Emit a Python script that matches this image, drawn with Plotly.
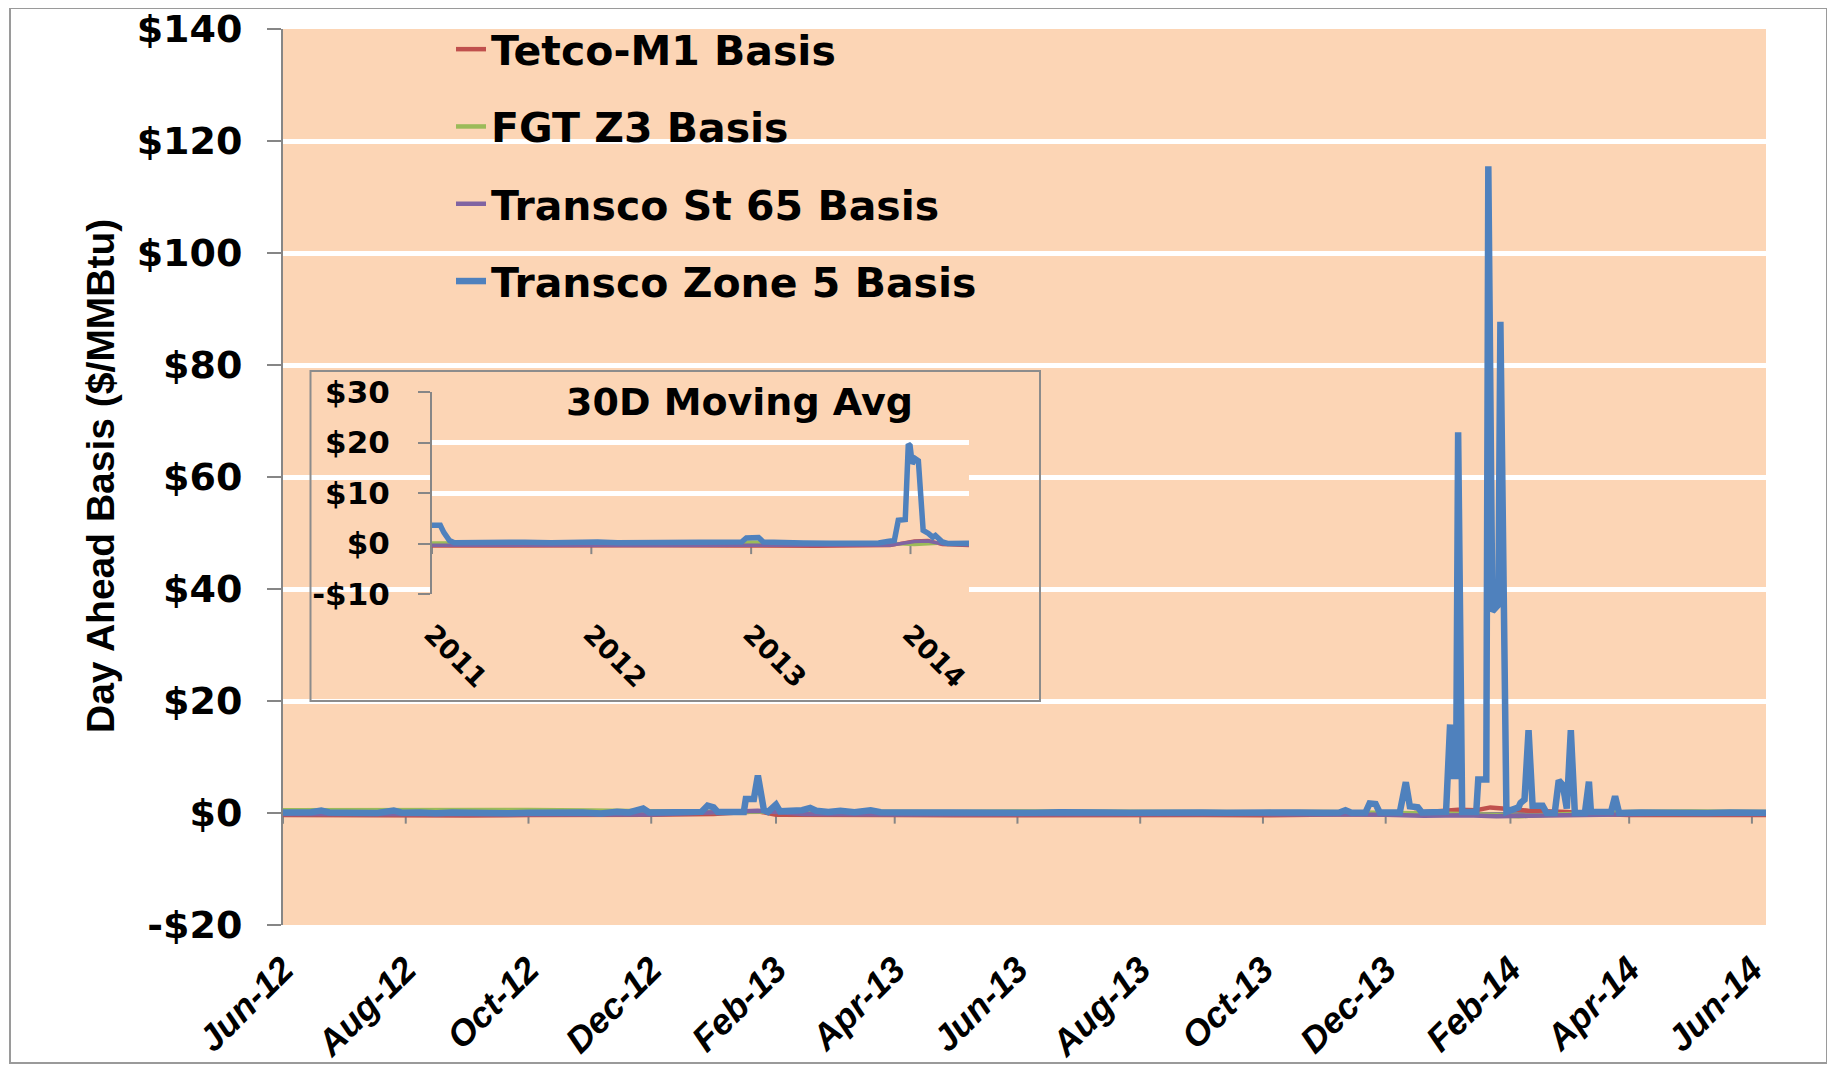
import plotly.graph_objects as go

# ---------------- data: main chart (daily day-ahead basis, $/MMBtu) ----------------
blue_dates = ["2012-06-01","2012-06-08","2012-06-15","2012-06-20","2012-06-24","2012-07-02","2012-07-10",
              "2012-07-18","2012-07-26","2012-07-30","2012-08-08","2012-08-16","2012-08-24","2012-09-03",
              "2012-09-12","2012-09-21","2012-10-01","2012-10-10","2012-10-19","2012-10-28","2012-11-06",
              "2012-11-14","2012-11-20","2012-11-27","2012-11-30","2012-12-08","2012-12-16","2012-12-26",
              "2012-12-29","2013-01-01","2013-01-03","2013-01-10","2013-01-16","2013-01-17","2013-01-21",
              "2013-01-23","2013-01-26","2013-01-28","2013-02-01","2013-02-03","2013-02-10","2013-02-14",
              "2013-02-18","2013-02-21","2013-02-27","2013-03-05","2013-03-12","2013-03-20","2013-03-25",
              "2013-04-05","2013-04-15","2013-04-25","2013-05-06","2013-05-18","2013-05-30","2013-06-10",
              "2013-06-22","2013-07-03","2013-07-15","2013-07-27","2013-08-08","2013-08-20","2013-09-01",
              "2013-09-13","2013-09-25","2013-10-07","2013-10-19","2013-10-31","2013-11-08","2013-11-11",
              "2013-11-14","2013-11-21","2013-11-23","2013-11-26","2013-11-28","2013-12-08","2013-12-11",
              "2013-12-13","2013-12-17","2013-12-19","2013-12-31","2014-01-02","2014-01-03","2014-01-05",
              "2014-01-06","2014-01-08","2014-01-15","2014-01-16","2014-01-20","2014-01-21","2014-01-23",
              "2014-01-26","2014-01-27","2014-01-30","2014-02-05","2014-02-06","2014-02-08","2014-02-10",
              "2014-02-12","2014-02-17","2014-02-19","2014-02-23","2014-02-25","2014-02-27","2014-03-01",
              "2014-03-03","2014-03-05","2014-03-10","2014-03-12","2014-03-13","2014-03-23","2014-03-25",
              "2014-03-27","2014-04-07","2014-04-18","2014-04-29","2014-05-10","2014-05-21","2014-06-01",
              "2014-06-08"]
blue_vals = [0.10,0.05,0.15,0.45,0.10,0.05,0.15,
             0.00,0.45,0.05,0.10,-0.05,0.10,0.00,
             0.10,-0.05,0.05,0.15,0.00,0.10,-0.10,
             0.20,0.10,0.80,0.10,0.20,0.15,0.20,
             1.30,1.00,0.20,0.15,0.20,2.50,2.50,
             6.70,0.50,0.20,1.50,0.30,0.40,0.50,
             0.90,0.40,0.20,0.40,0.15,0.50,0.15,
             0.10,0.20,0.05,0.15,0.00,0.10,0.05,
             0.15,0.00,0.10,0.05,0.15,0.00,0.10,
             0.05,0.15,0.00,0.10,0.05,0.10,0.50,
             0.05,0.10,1.70,1.60,0.10,0.10,5.50,
             1.20,1.00,0.10,0.20,15.80,6.60,6.60,
             68.00,0.20,0.20,6.00,6.00,115.50,36.00,
             37.20,87.70,0.20,1.00,1.80,2.40,14.80,
             1.30,1.30,0.00,0.00,5.80,5.00,0.80,
             14.80,0.00,0.00,5.60,0.20,0.20,3.00,
             0.00,0.10,0.00,0.10,0.00,0.10,0.05,
             0.05]

red_dates = ["2012-06-01","2012-07-01","2012-08-01","2012-09-01","2012-10-01","2012-11-01","2012-12-01",
             "2013-01-01","2013-01-23","2013-02-01","2013-03-01","2013-04-01","2013-05-01","2013-06-01",
             "2013-07-01","2013-08-01","2013-09-01","2013-10-01","2013-11-01","2013-11-25","2013-12-15",
             "2014-01-06","2014-01-15","2014-01-22","2014-01-28","2014-02-10","2014-03-01","2014-03-15",
             "2014-04-01","2014-05-01","2014-06-08"]
red_vals = [-0.35,-0.40,-0.30,-0.45,-0.35,-0.40,-0.30,
            -0.20,0.30,-0.30,-0.40,-0.35,-0.40,-0.35,
            -0.45,-0.40,-0.35,-0.40,-0.35,-0.20,0.00,
            0.60,0.50,1.00,0.80,0.40,0.20,-0.20,
            -0.35,-0.40,-0.35]

green_dates = ["2012-06-01","2012-07-01","2012-08-01","2012-09-01","2012-10-01","2012-11-01","2012-12-01",
               "2013-01-01","2013-02-01","2013-03-01","2013-04-01","2013-05-01","2013-06-01","2013-07-01",
               "2013-08-01","2013-09-01","2013-10-01","2013-11-01","2013-12-01","2014-01-10","2014-01-25",
               "2014-02-05","2014-02-20","2014-03-10","2014-04-01","2014-05-01","2014-06-08"]
green_vals = [0.50,0.55,0.45,0.50,0.55,0.45,0.30,
              0.20,0.25,0.20,0.15,0.20,0.25,0.20,
              0.15,0.20,0.15,0.20,0.10,-0.20,-0.40,
              -0.60,-0.30,0.00,0.20,0.25,0.20]

purple_dates = ["2012-06-01","2012-08-01","2012-10-01","2012-12-01","2013-01-23","2013-02-15","2013-04-01",
                "2013-06-01","2013-08-01","2013-10-01","2013-12-01","2013-12-20","2014-01-10","2014-01-25",
                "2014-02-10","2014-02-25","2014-03-15","2014-04-15","2014-06-08"]
purple_vals = [-0.20,-0.25,-0.20,-0.25,0.40,-0.20,-0.25,
               -0.20,-0.25,-0.20,-0.30,-0.50,-0.40,-0.60,
               -0.50,-0.40,-0.30,-0.20,-0.20]

# ---------------- data: inset (30D moving average) ----------------
ma_blue_dates = ["2011-01-01","2011-01-20","2011-01-28","2011-02-10","2011-02-21","2011-04-01","2011-06-01",
                 "2011-08-01","2011-10-01","2011-12-10","2011-12-25","2012-01-15","2012-03-01","2012-05-01",
                 "2012-07-01","2012-09-01","2012-11-01","2012-12-10","2012-12-21","2013-01-18","2013-01-29",
                 "2013-03-01","2013-05-01","2013-07-01","2013-09-01","2013-10-20","2013-11-09","2013-11-25",
                 "2013-12-04","2013-12-20","2013-12-27","2013-12-31","2014-01-05","2014-01-12","2014-01-19",
                 "2014-01-30","2014-02-11","2014-02-21","2014-02-27","2014-03-15","2014-03-27","2014-04-15",
                 "2014-05-15"]
ma_blue_vals = [3.6,3.6,2.2,0.6,0.15,0.2,0.15,
                0.25,0.15,0.3,0.45,0.3,0.15,0.2,
                0.15,0.2,0.15,0.3,1.1,1.2,0.3,
                0.15,0.1,0.05,0.1,0.1,0.4,0.6,
                4.6,4.75,19.7,19.4,15.8,16.8,16.4,
                2.6,2.0,1.25,1.6,0.3,0.0,0.05,
                0.05]

ma_other_dates = ["2011-01-01","2011-06-01","2012-01-01","2012-06-01","2012-12-01","2013-06-01","2013-11-15",
                  "2014-01-10","2014-02-10","2014-03-15","2014-05-15"]
ma_red_vals = [-0.5,-0.45,-0.5,-0.45,-0.5,-0.55,-0.4,0.5,0.6,-0.2,-0.4]
ma_green_vals = [0.1,0.15,0.2,0.35,0.3,0.1,0.05,-0.2,-0.1,0.1,0.1]
ma_purple_vals = [-0.35,-0.4,-0.35,-0.4,-0.35,-0.4,-0.35,0.4,0.5,-0.1,-0.3]

# ---------------- axis ticks ----------------
main_tick_dates = ["2012-06-01","2012-08-01","2012-10-01","2012-12-01","2013-02-01","2013-04-01","2013-06-01",
                   "2013-08-01","2013-10-01","2013-12-01","2014-02-01","2014-04-01","2014-06-01"]
main_tick_text = ["Jun-12","Aug-12","Oct-12","Dec-12","Feb-13","Apr-13","Jun-13",
                  "Aug-13","Oct-13","Dec-13","Feb-14","Apr-14","Jun-14"]
main_y_ticks = [-20, 0, 20, 40, 60, 80, 100, 120, 140]
main_y_text = ["-$20", "$0", "$20", "$40", "$60", "$80", "$100", "$120", "$140"]

inset_tick_dates = ["2011-01-01", "2012-01-01", "2013-01-01", "2014-01-01"]
inset_tick_text = ["2011", "2012", "2013", "2014"]
inset_y_ticks = [-10, 0, 10, 20, 30]
inset_y_text = ["-$10", "$0", "$10", "$20", "$30"]

names = ["Tetco-M1 Basis", "FGT Z3 Basis", "Transco St 65 Basis", "Transco Zone 5 Basis"]
colors = ["#C0504D", "#9BBB59", "#8064A2", "#4F81BD"]

PEACH = "#FCD5B5"
GRAY = "#868686"

fig = go.Figure()

main_series = [(red_dates, red_vals), (green_dates, green_vals), (purple_dates, purple_vals), (blue_dates, blue_vals)]
for i, (d, v) in enumerate(main_series):
    fig.add_trace(go.Scatter(x=d, y=v, mode="lines", name=names[i], legendgroup=names[i],
                             line=dict(color=colors[i], width=6.5 if i == 3 else 4.5),
                             xaxis="x", yaxis="y"))

inset_series = [(ma_other_dates, ma_red_vals), (ma_other_dates, ma_green_vals),
                (ma_other_dates, ma_purple_vals), (ma_blue_dates, ma_blue_vals)]
for i, (d, v) in enumerate(inset_series):
    fig.add_trace(go.Scatter(x=d, y=v, mode="lines", name=names[i], showlegend=False,
                             line=dict(color=colors[i], width=5.5 if i == 3 else 3.5),
                             xaxis="x3", yaxis="y3"))

# page has an 8px body margin: figure is sized so that screen positions match the reference
OFF = 8
W, H = 1835 - 2 * OFF, 1073 - 2 * OFF
PL, PR, PT, PB = 283, 1766, 29, 925          # plot area on screen (px)
L, R, T, B = PL - OFF, W - (PR - OFF), PT - OFF, H - (PB - OFF)
PW, PH = PR - PL, PB - PT


def px_x(p):
    return (p - PL) / PW


def px_y(p):
    return (PB - p) / PH


shapes = []
# tick marks on the zero line (main)
for d in main_tick_dates:
    shapes.append(dict(type="line", xref="x", yref="y", x0=d, x1=d, y0=0, y1=-1.9,
                       line=dict(color=GRAY, width=2), layer="below"))
# tick marks on the zero line (inset)
for d in inset_tick_dates:
    shapes.append(dict(type="line", xref="x3", yref="y3", x0=d, x1=d, y0=0, y1=-2.1,
                       line=dict(color=GRAY, width=2), layer="below"))
# inset frame border
shapes.append(dict(type="rect", xref="paper", yref="paper", x0=px_x(310.5), x1=px_x(1040),
                   y0=px_y(701), y1=px_y(371), line=dict(color="#8c8c8c", width=2), layer="above"))
# outer chart border
shapes.append(dict(type="rect", xref="paper", yref="paper", x0=px_x(10), x1=px_x(1827),
                   y0=px_y(1063), y1=px_y(8), line=dict(color="#9a9a9a", width=2), layer="above"))

font_bold = dict(family="DejaVu Sans", size=38, color="black", weight="bold")

fig.update_layout(
    width=W, height=H,
    margin=dict(l=L, r=R, t=T, b=B, pad=0, autoexpand=False),
    paper_bgcolor="white",
    plot_bgcolor=PEACH,
    showlegend=True,
    legend=dict(x=px_x(451), y=px_y(16), xanchor="left", yanchor="top",
                font=dict(family="DejaVu Sans", size=41, color="black", weight="bold"),
                bgcolor="rgba(0,0,0,0)", traceorder="grouped", tracegroupgap=21),
    xaxis=dict(type="date", range=["2012-06-01", "2014-06-08"], domain=[0, 1], anchor="y", automargin=False,
               tickvals=main_tick_dates, ticktext=main_tick_text, tickangle=-45, ticklabeloverflow="allow",
               tickfont=dict(family="Liberation Sans", size=36, color="black", weight="bold", style="italic"),
               showgrid=False, showline=False, zeroline=False, ticks="", ticklabelstandoff=15),
    yaxis=dict(range=[-20, 140], domain=[0, 1], anchor="x", automargin=False,
               tickvals=main_y_ticks, ticktext=main_y_text, ticklabeloverflow="allow",
               tickfont=font_bold, showgrid=True, gridcolor="white", gridwidth=5,
               showline=True, linecolor=GRAY, linewidth=2, ticks="outside", ticklen=14,
               tickcolor=GRAY, tickwidth=2, zeroline=True, zerolinecolor=GRAY, zerolinewidth=2,
               ticklabelstandoff=17),
    # inset background subplot (covers the main grid)
    xaxis2=dict(domain=[px_x(310.5), px_x(1040)], anchor="y2", range=[0, 1], showgrid=False, automargin=False,
                zeroline=False, showticklabels=False, ticks="", showline=False),
    yaxis2=dict(domain=[px_y(701), px_y(371)], anchor="x2", range=[0, 1], showgrid=False, automargin=False,
                zeroline=False, showticklabels=False, ticks="", showline=False),
    # inset data subplot
    xaxis3=dict(type="date", domain=[px_x(432), px_x(969)], anchor="y3", automargin=False,
                range=["2011-01-01", "2014-05-15"], tickvals=inset_tick_dates, ticktext=inset_tick_text,
                tickangle=45, ticklabeloverflow="allow",
                tickfont=dict(family="DejaVu Sans", size=27, color="black", weight="bold"),
                showgrid=False, showline=False, zeroline=False, ticks="", ticklabelstandoff=18),
    yaxis3=dict(domain=[px_y(594), px_y(392)], anchor="x3", range=[-10, 30], automargin=False,
                tickvals=inset_y_ticks, ticktext=inset_y_text, ticklabeloverflow="allow",
                tickfont=dict(family="DejaVu Sans", size=31, color="black", weight="bold"),
                showgrid=True, gridcolor="white", gridwidth=5, showline=True, linecolor=GRAY,
                linewidth=2, ticks="outside", ticklen=12, tickcolor=GRAY, tickwidth=2,
                zeroline=True, zerolinecolor=GRAY, zerolinewidth=2, ticklabelstandoff=22),
    shapes=shapes,
    annotations=[
        dict(text="Day Ahead Basis ($/MMBtu)", xref="paper", yref="paper", x=px_x(100), y=px_y(476),
             xanchor="center", yanchor="middle", textangle=-90, showarrow=False,
             font=dict(family="Liberation Sans", size=39, color="black", weight="bold")),
        dict(text="30D Moving Avg", xref="paper", yref="paper", x=px_x(739), y=px_y(402),
             xanchor="center", yanchor="middle", showarrow=False,
             font=dict(family="DejaVu Sans", size=38, color="black", weight="bold")),
    ],
)

fig.write_html("out.html")
